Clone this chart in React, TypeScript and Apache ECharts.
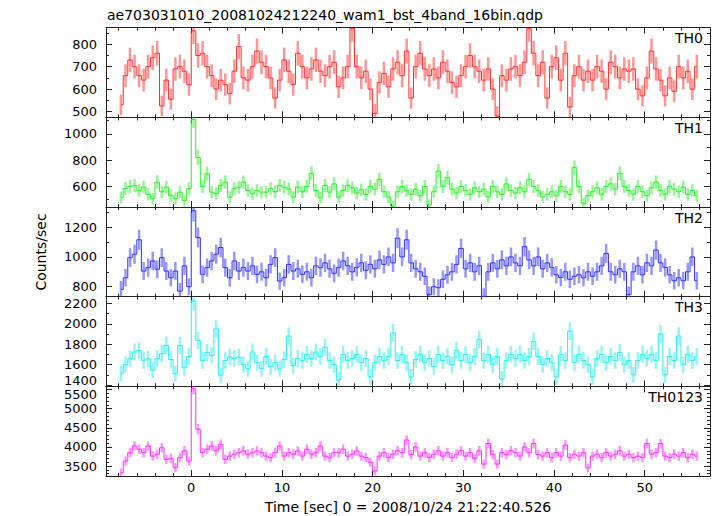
import React, { useEffect, useRef } from 'react';
import * as echarts from 'echarts';

// ---- data (0.5 s bins, centres start at -7.75 s) ----
const panelNames = ['TH0', 'TH1', 'TH2', 'TH3', 'TH0123'];
const timeStart = -7.75;
const binWidth = 0.5;
const refExposure = 0.25; // exposure of the original bins, for the error bars

const th0 = [
  530, 660, 730, 700, 660, 640, 700, 740,
  760, 525, 640, 555, 690, 700, 680, 620,
  860, 750, 760, 700, 660, 600, 640, 620,
  580, 680, 790, 650, 640, 700, 770, 720,
  700, 650, 560, 640, 730, 680, 620, 760,
  700, 650, 690, 730, 680, 660, 700, 720,
  610, 650, 700, 870, 700, 650, 680, 600,
  490, 630, 670, 610, 690, 720, 660, 770,
  560, 700, 760, 690, 660, 690, 650, 720,
  680, 630, 610, 660, 700, 750, 700, 680,
  640, 690, 600, 480, 660, 640, 690, 700,
  660, 720, 870, 760, 660, 720, 560, 700,
  740, 640, 760, 520, 660, 700, 640, 680,
  640, 700, 680, 600, 720, 700, 650, 690,
  680, 690, 600, 570, 650, 770, 690, 640,
  570, 650, 590, 700, 650, 680, 600, 700,
];
const th1 = [
  515, 585, 600, 608, 570, 595, 540, 507,
  633, 560, 595, 532, 507, 557, 494, 583,
  1110, 820, 600, 697, 557, 545, 608, 633,
  519, 583, 595, 633, 570, 545, 570, 557,
  557, 583, 560, 608, 595, 580, 519, 595,
  560, 600, 700, 570, 514, 608, 557, 620,
  519, 570, 608, 590, 550, 575, 540, 600,
  580, 654, 560, 520, 450, 560, 600, 570,
  540, 580, 530, 600, 460, 560, 718, 600,
  667, 580, 550, 600, 570, 540, 590, 560,
  580, 520, 600, 560, 540, 620, 570, 550,
  590, 560, 654, 600, 570, 520, 540, 560,
  530, 600, 560, 540, 745, 600, 470, 530,
  560, 590, 540, 600, 620, 580, 700, 600,
  570, 540, 600, 560, 530, 590, 633, 570,
  540, 600, 580, 560, 595, 540, 570, 530,
];
const th2 = [
  782, 860, 995, 1018, 1115, 905, 928, 973,
  917, 995, 905, 860, 905, 770, 940, 800,
  1310, 1130, 883, 928, 973, 1018, 1063, 928,
  860, 973, 905, 928, 905, 940, 883, 900,
  860, 950, 995, 838, 860, 950, 905, 920,
  883, 900, 860, 940, 928, 960, 920, 890,
  928, 973, 940, 900, 930, 960, 910, 950,
  920, 980, 950, 1000, 960, 1126, 1000, 1115,
  960, 920, 900, 870, 747, 800, 793, 850,
  880, 900, 950, 1057, 920, 960, 900, 940,
  735, 900, 960, 920, 980, 940, 1000, 960,
  940, 1069, 980, 940, 1000, 920, 960, 930,
  880, 862, 900, 850, 870, 880, 860, 900,
  870, 900, 940, 1023, 900, 880, 920, 900,
  747, 900, 940, 880, 960, 940, 1046, 960,
  930, 880, 840, 860, 840, 900, 1000, 840,
];
const th3 = [
  1512, 1600, 1658, 1723, 1739, 1642, 1658, 1545,
  1660, 1707, 1788, 1650, 1512, 1788, 1570, 1680,
  2225, 1836, 1640, 1720, 1690, 1950, 1496, 1640,
  1675, 1660, 1675, 1600, 1561, 1723, 1620, 1560,
  1680, 1580, 1620, 1560, 1650, 1880, 1590, 1660,
  1640, 1700, 1660, 1723, 1680, 1772, 1640, 1600,
  1450, 1700, 1640, 1660, 1700, 1620, 1660, 1480,
  1620, 1680, 1640, 1680, 1910, 1640, 1700, 1620,
  1480, 1650, 1700, 1620, 1660, 1580, 1700, 1640,
  1680, 1600, 1740, 1640, 1700, 1620, 1680, 1845,
  1640, 1700, 1600, 1680, 1460, 1640, 1700, 1660,
  1700, 1640, 1680, 1828, 1680, 1600, 1660, 1620,
  1480, 1700, 1640, 1928, 1620, 1700, 1640, 1600,
  1480, 1660, 1700, 1620, 1680, 1640, 1720, 1600,
  1640, 1500, 1640, 1700, 1660, 1700, 1640, 1900,
  1500, 1680, 1640, 1880, 1600, 1700, 1640, 1680,
];
const th0123 = [
  3325, 3630, 3850, 4025, 3940, 3850, 4025, 3760,
  3810, 3980, 3675, 3700, 3455, 3720, 3900, 3630,
  5520, 4465, 3850, 3940, 4025, 3900, 4070, 3675,
  3760, 3810, 3850, 3900, 3810, 3850, 3895, 3850,
  3760, 3720, 3850, 4025, 3760, 3850, 3810, 3895,
  3760, 3940, 3810, 3850, 4025, 3760, 3720, 3850,
  3850, 3940, 3760, 3810, 3895, 3760, 3720, 3600,
  3370, 3760, 3850, 3720, 3810, 3900, 3850, 4180,
  3800, 4000, 3760, 3850, 3720, 3810, 3900, 3760,
  3850, 3720, 3810, 3900, 3760, 3850, 3700, 3900,
  3550, 4090, 3800, 3550, 3850, 3800, 3900, 3850,
  3760, 4000, 3850, 4090, 3800, 3760, 3850, 3720,
  3850, 3760, 4050, 3720, 3810, 3760, 3850, 3450,
  3760, 3810, 3720, 3850, 3760, 3810, 3900, 3760,
  3810, 3720, 3760, 3720, 4090, 3810, 3850, 4090,
  3760, 3720, 3810, 3760, 3850, 3720, 3810, 3760,
];

const panelValues = [th0, th1, th2, th3, th0123];
const panelColors = ['#ff2d2d', '#2fea2f', '#2f2fff', '#2feaea', '#ff2dff'];

// axis ranges and ticks
const xMin = -9.4;
const xMax = 57.2;
const xLabelTicks = [0, 10, 20, 30, 40, 50];
const xMinorTicks = [-8, -6, -4, -2, 0, 2, 4, 6, 8, 10, 12, 14, 16, 18, 20, 22, 24, 26, 28, 30, 32, 34, 36, 38, 40, 42, 44, 46, 48, 50, 52, 54, 56];
const yMins = [474, 444, 733, 1388, 3240];
const yMaxs = [874, 1125, 1335, 2265, 5586];
const yLabelTicks = [
  [500, 600, 700, 800],
  [600, 800, 1000],
  [800, 1000, 1200],
  [1400, 1600, 1800, 2000, 2200],
  [3500, 4000, 4500, 5000, 5500],
];
const yMinorSteps = [50, 100, 100, 100, 100];

const titleText = 'ae703031010_20081024212240_wam1_bst_4band_16bin.qdp';
const xTitle = 'Time [sec] 0 = 2008/10/24 21:22:40.526';
const yTitle = 'Counts/sec';

// ---- layout ----
const W = 717;
const H = 516;
const plotLeft = 106;
const plotRight = 7;
const plotTop = 27.7;
const panelH = 89.66;
const FONT = 'DejaVu Sans';
const frameColor = '#222';

function minorValues(min: number, max: number, step: number) {
  const out: number[] = [];
  for (let v = Math.ceil(min / step) * step; v <= max; v += step) out.push(v);
  return out;
}

function buildOption() {
  const grids: any[] = [];
  const xAxes: any[] = [];
  const yAxes: any[] = [];
  const series: any[] = [];
  const graphics: any[] = [];
  const lineStyle = { color: frameColor, width: 1 };
  const last = panelNames.length - 1;

  panelNames.forEach((name, i) => {
    const top = plotTop + i * panelH;
    grids.push({ left: plotLeft, right: plotRight, top, height: panelH, containLabel: false });

    const xBase = {
      type: 'value', min: xMin, max: xMax, gridIndex: i,
      splitLine: { show: false }, axisPointer: { show: false },
    };
    const xAxisDef = (position: string, ticks: number[], len: number, showLine: boolean, showLabel: boolean) => ({
      ...xBase,
      position,
      axisLine: { show: showLine, onZero: false, lineStyle },
      axisTick: { show: true, inside: true, length: len, customValues: ticks, lineStyle },
      axisLabel: {
        show: showLabel, customValues: xLabelTicks, margin: 5,
        fontSize: 13, fontFamily: FONT, color: '#000',
        formatter: (v: number) => String(v),
      },
    });
    xAxes.push(xAxisDef('bottom', xLabelTicks, 6, true, i === last));
    xAxes.push(xAxisDef('bottom', xMinorTicks, 3, false, false));
    xAxes.push(xAxisDef('top', xLabelTicks, 6, true, false));
    xAxes.push(xAxisDef('top', xMinorTicks, 3, false, false));

    const yMinor = minorValues(yMins[i], yMaxs[i], yMinorSteps[i]);
    const labels = yLabelTicks[i];
    const lowest = labels[0];
    const highest = labels[labels.length - 1];
    const yBase = {
      type: 'value', min: yMins[i], max: yMaxs[i], gridIndex: i,
      splitLine: { show: false }, axisPointer: { show: false },
    };
    const yAxisDef = (position: string, ticks: number[], len: number, showLine: boolean, showLabel: boolean) => ({
      ...yBase,
      position,
      axisLine: { show: showLine, onZero: false, lineStyle },
      axisTick: { show: true, inside: true, length: len, customValues: ticks, lineStyle },
      axisLabel: {
        show: showLabel, customValues: labels, margin: 9,
        fontSize: 13, fontFamily: FONT, color: '#000',
        formatter: (v: number) => {
          // labels squeezed against a neighbouring panel are nudged apart
          if (i === 3 && v === lowest) return '{lo|' + v + '}';
          if (i === last && v === highest) return '{hi|' + v + '}';
          return String(v);
        },
        rich: {
          lo: { fontSize: 13, fontFamily: FONT, color: '#000', lineHeight: 10, padding: [0, 0, 10, 0] },
          hi: { fontSize: 13, fontFamily: FONT, color: '#000', lineHeight: 10, padding: [9, 0, 0, 0] },
        },
      },
    });
    yAxes.push(yAxisDef('left', labels, 6, true, true));
    yAxes.push(yAxisDef('left', yMinor, 3, false, false));
    yAxes.push(yAxisDef('right', labels, 6, true, false));
    yAxes.push(yAxisDef('right', yMinor, 3, false, false));

    const vals = panelValues[i];
    const color = panelColors[i];
    const pts = vals.map((v, k) => [timeStart + binWidth * k, v]);
    const errPts = vals.map((v, k) => [timeStart + binWidth * k, v, Math.sqrt(v * refExposure) / refExposure]);

    series.push({
      type: 'custom',
      xAxisIndex: 4 * i,
      yAxisIndex: 4 * i,
      clip: true,
      silent: true,
      z: 2,
      data: errPts,
      renderItem: (params: any, api: any) => {
        const t = api.value(0);
        const v = api.value(1);
        const e = api.value(2);
        const p1 = api.coord([t, v - e]);
        const p2 = api.coord([t, v + e]);
        return {
          type: 'line',
          shape: { x1: p1[0], y1: p1[1], x2: p2[0], y2: p2[1] },
          style: { stroke: color, lineWidth: 2.5, opacity: 0.5 },
        };
      },
    });
    series.push({
      type: 'line',
      xAxisIndex: 4 * i,
      yAxisIndex: 4 * i,
      data: pts,
      step: 'middle',
      symbol: 'none',
      showSymbol: false,
      clip: true,
      silent: true,
      z: 3,
      lineStyle: { color, width: 1 },
    });

    graphics.push({
      type: 'text',
      x: 703,
      y: top + 10.5,
      style: {
        text: name, fontSize: 14, fontFamily: FONT, fill: '#000',
        align: 'right', verticalAlign: 'middle',
      },
    });
  });

  graphics.push({
    type: 'text', x: 107, y: 15,
    style: { text: titleText, fontSize: 14, fontFamily: FONT, fill: '#000', align: 'left', verticalAlign: 'middle' },
  });
  graphics.push({
    type: 'text', x: 408, y: 507,
    style: { text: xTitle, fontSize: 14, fontFamily: FONT, fill: '#000', align: 'center', verticalAlign: 'middle' },
  });
  graphics.push({
    type: 'text', x: 41, y: 252, rotation: Math.PI / 2,
    style: { text: yTitle, fontSize: 14, fontFamily: FONT, fill: '#000', align: 'center', verticalAlign: 'middle' },
  });

  return {
    animation: false,
    backgroundColor: '#fff',
    grid: grids,
    xAxis: xAxes,
    yAxis: yAxes,
    series,
    graphic: graphics,
  };
}

export default function App() {
  const ref = useRef<HTMLDivElement>(null);
  useEffect(() => {
    if (!ref.current) return;
    const chart = echarts.init(ref.current, undefined, { renderer: 'svg' });
    chart.setOption(buildOption() as any);
    return () => chart.dispose();
  }, []);
  return (
    <div
      ref={ref}
      style={{ position: 'fixed', left: 0, top: 0, width: W, height: H, background: '#fff' }}
    />
  );
}
